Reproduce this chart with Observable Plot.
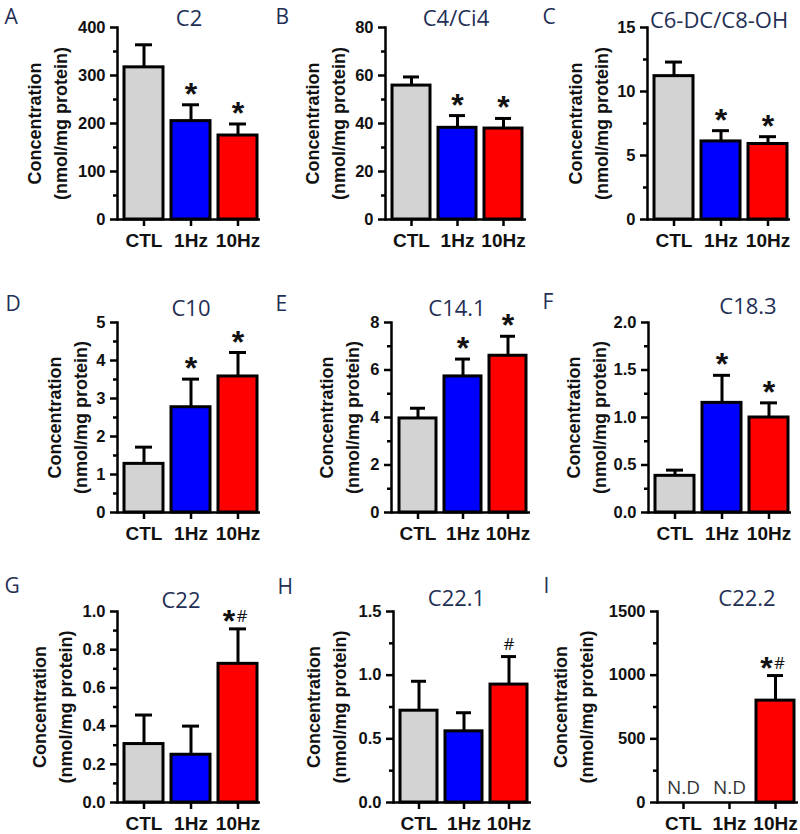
<!DOCTYPE html>
<html><head><meta charset="utf-8">
<script src="https://cdn.jsdelivr.net/npm/d3@7"></script>
<script src="https://cdn.jsdelivr.net/npm/@observablehq/plot@0.6"></script>
<style>
body{margin:0;background:#fff;}
#wrap{position:relative;width:800px;height:834px;background:#fff;overflow:hidden;}
.panel{position:absolute;}
.panel svg{overflow:visible;max-width:none;background:transparent;}
</style></head><body><div id="wrap"></div>
<script>
// ---- data ----
const groups = ["CTL", "1Hz", "10Hz"];
const letters = ["A", "B", "C", "D", "E", "F", "G", "H", "I"];
const titles = ["C2", "C4/Ci4", "C6-DC/C8-OH", "C10", "C14.1", "C18.3", "C22", "C22.1", "C22.2"];
const means = [
  [317, 205, 175],
  [55.8, 38.2, 37.9],
  [11.2, 6.1, 5.9],
  [1.28, 2.77, 3.58],
  [3.96, 5.73, 6.60],
  [0.386, 1.154, 1.0],
  [0.306, 0.25, 0.726],
  [0.721, 0.559, 0.926],
  [null, null, 800]
];
const sems = [
  [47, 34, 24],
  [3.6, 5.1, 4.2],
  [1.1, 0.84, 0.57],
  [0.44, 0.74, 0.63],
  [0.43, 0.73, 0.82],
  [0.06, 0.29, 0.154],
  [0.152, 0.15, 0.183],
  [0.231, 0.146, 0.22],
  [null, null, 197]
];
const sig = [
  ["", "*", "*"], ["", "*", "*"], ["", "*", "*"],
  ["", "*", "*"], ["", "*", "*"], ["", "*", "*"],
  ["", "", "*#"], ["", "", "#"], ["", "", "*#"]
];
const notDetected = [
  ["", "", ""], ["", "", ""], ["", "", ""],
  ["", "", ""], ["", "", ""], ["", "", ""],
  ["", "", ""], ["", "", ""], ["N.D", "N.D", ""]
];
const yMax = [400, 80, 15, 5, 8, 2, 1, 1.5, 1500];
const yMajor = [
  [0, 100, 200, 300, 400], [0, 20, 40, 60, 80], [0, 5, 10, 15],
  [0, 1, 2, 3, 4, 5], [0, 2, 4, 6, 8], [0, 0.5, 1, 1.5, 2],
  [0, 0.2, 0.4, 0.6, 0.8, 1], [0, 0.5, 1, 1.5], [0, 500, 1000, 1500]
];
const yTickLabels = [
  ["0", "100", "200", "300", "400"], ["0", "20", "40", "60", "80"], ["0", "5", "10", "15"],
  ["0", "1", "2", "3", "4", "5"], ["0", "2", "4", "6", "8"], ["0.0", "0.5", "1.0", "1.5", "2.0"],
  ["0.0", "0.2", "0.4", "0.6", "0.8", "1.0"], ["0.0", "0.5", "1.0", "1.5"], ["0", "500", "1000", "1500"]
];
const yMinor = [
  [50, 150, 250, 350], [10, 30, 50, 70], [2.5, 7.5, 12.5],
  [0.5, 1.5, 2.5, 3.5, 4.5], [1, 3, 5, 7], [0.25, 0.75, 1.25, 1.75],
  [0.1, 0.3, 0.5, 0.7, 0.9], [0.25, 0.75, 1.25], [250, 750, 1250]
];
const yLabel = "Concentration\n(nmol/mg protein)";

// ---- styling / layout ----
const barColors = ["#d3d3d3", "#0000ff", "#ff0000"];
const navy = "#1f2f55";
const colX = [0, 260, 530], colW = [260, 270, 270];
const rowY = [0, 280, 550], rowH = [280, 270, 284];
const layout = [
  {axis: 117, right: 260, top: 27, zero: 219, ylab: -72, tdx: 0, tdy: -2, lx: 4, lb: 23},
  {axis: 385, right: 526, top: 27, zero: 219, ylab: -62, tdx: 0, tdy: -2, lx: 275, lb: 23},
  {axis: 647, right: 790, top: 27, zero: 219, ylab: -61, tdx: 0, tdy: 0, lx: 542, lb: 23},
  {axis: 117, right: 260, top: 322, zero: 512, ylab: -52, tdx: 2, tdy: -7, lx: 5, lb: 310},
  {axis: 391, right: 530, top: 322, zero: 512, ylab: -54, tdx: -4, tdy: -7, lx: 275, lb: 310},
  {axis: 648, right: 791, top: 322, zero: 512, ylab: -64, tdx: 28, tdy: -9, lx: 542, lb: 308},
  {axis: 117, right: 260, top: 611, zero: 802, ylab: -67, tdx: -8, tdy: -4, lx: 4, lb: 592},
  {axis: 393, right: 531, top: 611, zero: 802, ylab: -69, tdx: -6, tdy: -6, lx: 277, lb: 593},
  {axis: 657, right: 798, top: 611, zero: 802, ylab: -86, tdx: 19, tdy: -6, lx: 543, lb: 592}
];

const wrap = document.getElementById("wrap");
const boldFont = "'Liberation Sans', Arial, sans-serif";
const titleFont = "'Open Sans', 'Noto Sans', sans-serif";

for (let i = 0; i < 9; i++) {
  const col = i % 3, row = Math.floor(i / 3);
  const L = layout[i];
  const x0 = colX[col], y0 = rowY[row], W = colW[col], H = rowH[row];
  const data = groups.map((g, j) => ({
    group: g, mean: means[i][j], sem: sems[i][j], sig: sig[i][j], nd: notDetected[i][j]
  }));
  const valid = data.filter(d => d.mean != null);
  const starData = data.filter(d => d.sig.includes("*"));
  const hashData = data.filter(d => d.sig.includes("#"));
  const both = sig[i].some(s => s === "*#");
  const ndData = data.filter(d => d.nd);
  const top = d => d.mean + d.sem;

  const chart = Plot.plot({
    width: W, height: H,
    marginLeft: L.axis - x0,
    marginRight: x0 + W - L.right,
    marginTop: L.top - y0,
    marginBottom: y0 + H - L.zero,
    style: {fontFamily: boldFont, background: "transparent", overflow: "visible"},
    x: {type: "band", domain: groups, paddingInner: 0.18, paddingOuter: 0.075, insetLeft: 3, label: null},
    y: {domain: [0, yMax[i]], label: null},
    color: {domain: groups, range: barColors},
    marks: [
      Plot.ruleX(valid, {x: "group", y1: "mean", y2: top, stroke: "#000", strokeWidth: 3}),
      Plot.tickY(valid, {x: "group", y: top, stroke: "#000", strokeWidth: 3, insetLeft: 11, insetRight: 11}),
      Plot.barY(valid, {x: "group", y: "mean", fill: "group", stroke: "#000", strokeWidth: 3}),
      Plot.ruleY([0], {stroke: "#000", strokeWidth: 2.5}),
      Plot.frame({anchor: "left", stroke: "#000", strokeWidth: 2.5}),
      Plot.axisY({
        ticks: yMajor[i], tickSize: 7, tickPadding: 5, strokeWidth: 2.5,
        tickFormat: d => yTickLabels[i][yMajor[i].indexOf(d)],
        fontWeight: "bold", fontSize: 16.5, fill: "#111"
      }),
      Plot.axisY({ticks: yMinor[i], tickSize: 4, strokeWidth: 2.5, tickFormat: () => ""}),
      Plot.axisX({tickSize: 7, tickPadding: 7, strokeWidth: 2.5, fontWeight: "bold", fontSize: 19, fill: "#111"}),
      Plot.text(starData, {
        x: "group", y: top, text: () => "*", lineAnchor: "bottom", textAnchor: "middle",
        dx: both ? -9 : 0, dy: both ? 3 : 0, fontSize: 32, fontWeight: "bold", fill: "#111"
      }),
      Plot.text(hashData, {
        x: "group", y: top, text: () => "#", lineAnchor: "bottom", textAnchor: "middle",
        dx: both ? 4 : 0, dy: -7, fontSize: 17, fontFamily: titleFont, fill: "#111"
      }),
      Plot.text(ndData, {
        x: "group", y: () => 0, text: "nd", lineAnchor: "middle", textAnchor: "middle",
        dy: -15, fontSize: 19, fontFamily: titleFont, fill: "#333"
      }),
      Plot.text([yLabel], {
        text: d => d, frameAnchor: "left", rotate: -90, dx: L.ylab,
        textAnchor: "middle", lineHeight: 1.45, lineAnchor: "middle",
        fontSize: 18, fontWeight: "bold", fill: "#111"
      }),
      Plot.text([titles[i]], {
        text: d => d, frameAnchor: "top", dx: L.tdx, dy: L.tdy, lineAnchor: "bottom",
        textAnchor: "middle", fontFamily: titleFont, fontSize: 22, fill: navy
      }),
      Plot.text([letters[i]], {
        text: d => d, frameAnchor: "top-left", dx: L.lx - L.axis, dy: L.lb - L.top,
        textAnchor: "start", lineAnchor: "bottom", fontFamily: titleFont, fontSize: 21, fill: navy
      })
    ]
  });
  const div = document.createElement("div");
  div.className = "panel";
  div.style.left = x0 + "px";
  div.style.top = y0 + "px";
  div.style.width = W + "px";
  div.style.height = H + "px";
  div.appendChild(chart);
  wrap.appendChild(div);
}
</script>
</body></html>
